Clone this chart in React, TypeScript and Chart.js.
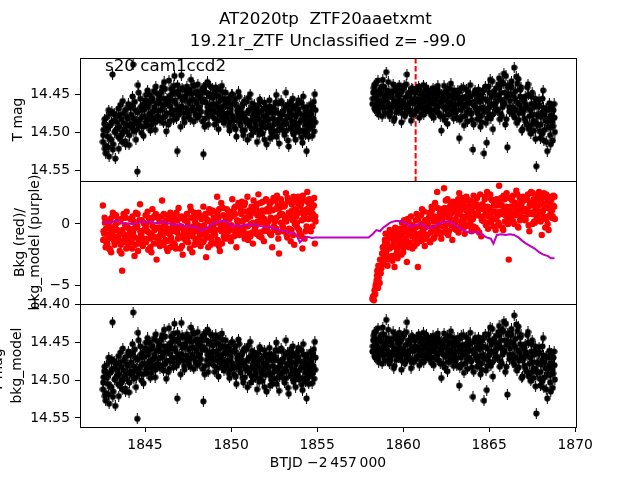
import React, { useEffect, useRef } from 'react';
import { Chart, registerables } from 'chart.js';

Chart.register(...registerables);

const FAMILY = 'DejaVu Sans';
const TITLE_LINES = ['AT2020tp  ZTF20aaetxmt ', '19.21r_ZTF Unclassified z= -99.0'];
const PANEL_LABEL = 's20 cam1ccd2';
const X_TITLE = 'BTJD \u22122\u2009457\u2009000';
const X_TICKS = [1845, 1850, 1855, 1860, 1865, 1870];
const MAG_TICKS_TOP = [14.45, 14.5, 14.55];
const BKG_TICKS = [0, -5];
const MAG_TICKS_BOTTOM = [14.4, 14.45, 14.5, 14.55];
const EVENT_TIME = 1860.73;

// orbit 1 cadences (set a)
const time1 = [
  1842.55, 1842.63, 1842.71, 1842.79, 1842.87, 1842.95, 1843.03, 1843.11, 1843.19, 1843.27,
  1843.35, 1843.43, 1843.51, 1843.59, 1843.67, 1843.75, 1843.83, 1843.91, 1843.99, 1844.07,
  1844.15, 1844.23, 1844.31, 1844.39, 1844.47, 1844.55, 1844.63, 1844.71, 1844.79, 1844.87,
  1844.95, 1845.03, 1845.11, 1845.19, 1845.27, 1845.35, 1845.43, 1845.51, 1845.59, 1845.67,
  1845.75, 1845.83, 1845.91, 1845.99, 1846.07, 1846.15, 1846.23, 1846.31, 1846.39, 1846.47,
  1846.55, 1846.63, 1846.71, 1846.79, 1846.87, 1846.95, 1847.03, 1847.11, 1847.19, 1847.27,
  1847.35, 1847.43, 1847.51, 1847.59, 1847.67, 1847.75, 1847.83, 1847.91, 1847.99, 1848.07,
  1848.15, 1848.23, 1848.31, 1848.39, 1848.47, 1848.55, 1848.63, 1848.71, 1848.79, 1848.87,
  1848.95, 1849.03, 1849.11, 1849.19, 1849.27, 1849.35, 1849.43, 1849.51, 1849.59, 1849.67,
  1849.75, 1849.83, 1849.91, 1849.99, 1850.07, 1850.15, 1850.23, 1850.31, 1850.39, 1850.47,
  1850.55, 1850.63, 1850.71, 1850.79, 1850.87, 1850.95, 1851.03, 1851.11, 1851.19, 1851.27,
  1851.35, 1851.43, 1851.51, 1851.59, 1851.67, 1851.75, 1851.83, 1851.91, 1851.99, 1852.07,
  1852.15, 1852.23, 1852.31, 1852.39, 1852.47, 1852.55, 1852.63, 1852.71, 1852.79, 1852.87,
  1852.95, 1853.03, 1853.11, 1853.19, 1853.27, 1853.35, 1853.43, 1853.51, 1853.59, 1853.67,
  1853.75, 1853.83, 1853.91, 1853.99, 1854.07, 1854.15, 1854.23, 1854.31, 1854.39, 1854.47,
  1854.55, 1854.63, 1854.71, 1854.79, 1854.87,
];
const mag1 = [
  14.512, 14.488, 14.527, 14.497, 14.519, 14.475, 14.509, 14.423, 14.484, 14.534,
  14.478, 14.505, 14.492, 14.463, 14.512, 14.487, 14.470, 14.498, 14.481, 14.516,
  14.466, 14.493, 14.410, 14.488, 14.509, 14.551, 14.447, 14.482, 14.500, 14.463,
  14.478, 14.457, 14.491, 14.466, 14.450, 14.483, 14.472, 14.445, 14.496, 14.461,
  14.479, 14.452, 14.470, 14.440, 14.487, 14.463, 14.498, 14.456, 14.431, 14.474,
  14.449, 14.476, 14.425, 14.462, 14.524, 14.445, 14.470, 14.424, 14.457, 14.481,
  14.452, 14.439, 14.471, 14.458, 14.430, 14.466, 14.485, 14.447, 14.461, 14.436,
  14.478, 14.455, 14.442, 14.528, 14.492, 14.460, 14.433, 14.468, 14.449, 14.475,
  14.454, 14.481, 14.440, 14.466, 14.495, 14.458, 14.472, 14.446, 14.487, 14.463,
  14.480, 14.455, 14.497, 14.469, 14.449, 14.484, 14.462, 14.505, 14.476, 14.452,
  14.490, 14.466, 14.503, 14.458, 14.482, 14.509, 14.471, 14.449, 14.494, 14.477,
  14.463, 14.496, 14.512, 14.474, 14.456, 14.488, 14.501, 14.468, 14.484, 14.515,
  14.472, 14.457, 14.493, 14.505, 14.466, 14.483, 14.450, 14.497, 14.514, 14.476,
  14.461, 14.489, 14.503, 14.447, 14.478, 14.518, 14.470, 14.492, 14.455, 14.486,
  14.509, 14.474, 14.457, 14.497, 14.483, 14.513, 14.466, 14.490, 14.524, 14.478,
  14.495, 14.462, 14.504, 14.481, 14.449,
];
const bkg1 = [
  1.5, -0.8, -1.9, 0.2, -1.2, -0.4, -2.3, 0.6, -1.0, -0.1,
  -1.4, 0.3, -0.6, -1.7, -3.8, 0.8, -0.9, -2.0, -0.3, -1.1,
  0.4, -1.5, -0.7, -2.6, 0.9, -0.2, -1.3, 1.6, -0.8, -1.8,
  -0.5, 0.7, -1.2, -2.1, 0.2, -0.9, 1.2, -1.6, -0.4, -2.9,
  0.5, -1.0, -0.3, 1.9, -1.7, -0.6, 0.3, -2.2, -0.8, 0.9,
  -1.4, -0.1, 0.6, -2.0, -0.7, 1.3, -1.1, -0.2, -2.5, 0.4,
  -0.9, 0.8, -1.5, -0.3, 1.1, -2.3, -0.6, 0.2, -1.2, -0.1,
  0.7, -1.8, -0.4, 1.4, -0.9, -2.7, 0.3, -0.5, 0.9, -1.3,
  -0.2, 1.0, -1.6, 2.2, 0.5, -2.2, 1.7, -0.4, -1.0, 0.2,
  1.2, -0.6, 0.4, -1.4, 2.0, -0.3, 0.8, -1.9, 0.1, 1.5,
  -0.5, 1.8, 0.3, -1.2, 1.0, 2.2, -0.8, 0.6, 1.4, -1.6,
  0.9, -0.2, 1.6, 2.4, -0.7, 0.4, 1.1, -1.4, 0.0, 1.9,
  -0.6, 1.3, 0.5, -1.9, 2.1, 0.2, -0.4, 1.5, -2.4, 0.8,
  1.7, -0.3, 0.6, 2.5, -1.1, 0.9, 1.8, -0.5, 0.3, -1.7,
  1.2, 0.1, 2.2, -0.8, 1.6, -2.0, 0.7, 1.9, -0.2, 1.0,
  2.0, -0.6, 1.3, 0.4, -1.6,
];

// orbit 1 cadences (set b)
const time1b = [
  1842.59, 1842.67, 1842.75, 1842.83, 1842.91, 1842.99, 1843.07, 1843.15, 1843.23, 1843.31,
  1843.39, 1843.47, 1843.55, 1843.63, 1843.71, 1843.79, 1843.87, 1843.95, 1844.03, 1844.11,
  1844.19, 1844.27, 1844.35, 1844.43, 1844.51, 1844.59, 1844.67, 1844.75, 1844.83, 1844.91,
  1844.99, 1845.07, 1845.15, 1845.23, 1845.31, 1845.39, 1845.47, 1845.55, 1845.63, 1845.71,
  1845.79, 1845.87, 1845.95, 1846.03, 1846.11, 1846.19, 1846.27, 1846.35, 1846.43, 1846.51,
  1846.59, 1846.67, 1846.75, 1846.83, 1846.91, 1846.99, 1847.07, 1847.15, 1847.23, 1847.31,
  1847.39, 1847.47, 1847.55, 1847.63, 1847.71, 1847.79, 1847.87, 1847.95, 1848.03, 1848.11,
  1848.19, 1848.27, 1848.35, 1848.43, 1848.51, 1848.59, 1848.67, 1848.75, 1848.83, 1848.91,
  1848.99, 1849.07, 1849.15, 1849.23, 1849.31, 1849.39, 1849.47, 1849.55, 1849.63, 1849.71,
  1849.79, 1849.87, 1849.95, 1850.03, 1850.11, 1850.19, 1850.27, 1850.35, 1850.43, 1850.51,
  1850.59, 1850.67, 1850.75, 1850.83, 1850.91, 1850.99, 1851.07, 1851.15, 1851.23, 1851.31,
  1851.39, 1851.47, 1851.55, 1851.63, 1851.71, 1851.79, 1851.87, 1851.95, 1852.03, 1852.11,
  1852.19, 1852.27, 1852.35, 1852.43, 1852.51, 1852.59, 1852.67, 1852.75, 1852.83, 1852.91,
  1852.99, 1853.07, 1853.15, 1853.23, 1853.31, 1853.39, 1853.47, 1853.55, 1853.63, 1853.71,
  1853.79, 1853.87, 1853.95, 1854.03, 1854.11, 1854.19, 1854.27, 1854.35, 1854.43, 1854.51,
  1854.59, 1854.67, 1854.75, 1854.83, 1854.91,
];
const mag1b = [
  14.496, 14.521, 14.480, 14.505, 14.531, 14.490, 14.472, 14.515, 14.499, 14.478,
  14.494, 14.521, 14.476, 14.503, 14.458, 14.497, 14.515, 14.479, 14.462, 14.490,
  14.476, 14.452, 14.498, 14.470, 14.485, 14.437, 14.491, 14.466, 14.479, 14.504,
  14.462, 14.486, 14.444, 14.475, 14.497, 14.458, 14.481, 14.466, 14.439, 14.478,
  14.458, 14.484, 14.446, 14.469, 14.433, 14.478, 14.455, 14.489, 14.465, 14.442,
  14.470, 14.438, 14.457, 14.481, 14.449, 14.466, 14.492, 14.441, 14.474, 14.455,
  14.444, 14.474, 14.460, 14.482, 14.449, 14.437, 14.470, 14.458, 14.480, 14.451,
  14.466, 14.448, 14.485, 14.456, 14.437, 14.473, 14.489, 14.452, 14.463, 14.441,
  14.471, 14.446, 14.462, 14.484, 14.452, 14.477, 14.438, 14.465, 14.456, 14.481,
  14.465, 14.491, 14.474, 14.450, 14.482, 14.460, 14.495, 14.471, 14.446, 14.486,
  14.472, 14.497, 14.460, 14.485, 14.474, 14.454, 14.490, 14.503, 14.467, 14.481,
  14.487, 14.470, 14.480, 14.502, 14.459, 14.492, 14.478, 14.509, 14.466, 14.474,
  14.490, 14.507, 14.469, 14.481, 14.498, 14.460, 14.487, 14.474, 14.495, 14.458,
  14.476, 14.498, 14.466, 14.488, 14.510, 14.471, 14.459, 14.485, 14.502, 14.468,
  14.488, 14.462, 14.499, 14.475, 14.506, 14.452, 14.483, 14.471, 14.496, 14.505,
  14.472, 14.489, 14.466, 14.498, 14.470,
];
const bkg1b = [
  -0.6, 0.1, -1.5, -0.9, -2.0, 0.4, -1.1, -0.3, -1.7, 0.7,
  -0.5, -1.3, 0.2, -2.4, -0.8, -1.5, 0.5, -0.2, -1.9, -0.7,
  -1.0, 0.6, -0.4, -1.7, -0.1, -2.2, 0.3, -0.9, -1.4, 0.1,
  -1.3, -0.2, 1.0, -0.7, -1.9, 0.4, -1.0, -0.5, 0.8, -1.6,
  -0.3, -1.8, 0.6, -0.9, 0.1, -1.3, -2.0, 0.7, -0.4, -1.1,
  0.2, -1.6, -0.5, 0.9, -1.2, -0.3, 0.5, -1.8, -0.8, 0.3,
  -1.4, 0.1, -0.7, 1.4, -1.0, -0.2, -1.7, 0.6, -0.6, 0.9,
  -0.8, 0.4, -1.5, -0.1, 0.8, -1.1, -1.9, 0.2, -0.5, 1.1,
  0.5, -0.9, 0.1, -1.3, 1.2, -0.4, -1.6, 0.7, -0.1, -0.8,
  -0.2, 0.9, -1.1, 0.6, -0.5, 1.3, -0.9, 0.3, 1.7, -0.6,
  0.8, -0.3, 1.5, -0.9, 0.4, -1.3, 1.1, 0.0, -0.7, 1.9,
  -0.4, 1.2, 0.2, -1.0, 1.7, 0.6, -0.6, 1.0, 2.0, -0.2,
  1.0, -0.8, 1.8, 0.4, -0.5, 1.2, 2.3, -1.2, 0.7, 0.1,
  -0.2, 1.4, 0.3, -0.9, 1.9, 0.5, -1.4, 1.1, 2.2, 0.0,
  0.6, 1.7, -0.5, 2.0, 0.3, 1.1, -1.2, 0.9, 2.6, 0.4,
  -0.4, 1.6, 0.8, 2.1, 0.2,
];

// orbit 1 cadences (set c)
const time1c = [
  1842.57, 1842.65, 1842.73, 1842.81, 1842.89, 1842.97, 1843.05, 1843.13, 1843.21, 1843.29,
  1843.37, 1843.45, 1843.53, 1843.61, 1843.69, 1843.77, 1843.85, 1843.93, 1844.01, 1844.09,
  1844.17, 1844.25, 1844.33, 1844.41, 1844.49, 1844.57, 1844.65, 1844.73, 1844.81, 1844.89,
  1844.97, 1845.05, 1845.13, 1845.21, 1845.29, 1845.37, 1845.45, 1845.53, 1845.61, 1845.69,
  1845.77, 1845.85, 1845.93, 1846.01, 1846.09, 1846.17, 1846.25, 1846.33, 1846.41, 1846.49,
  1846.57, 1846.65, 1846.73, 1846.81, 1846.89, 1846.97, 1847.05, 1847.13, 1847.21, 1847.29,
  1847.37, 1847.45, 1847.53, 1847.61, 1847.69, 1847.77, 1847.85, 1847.93, 1848.01, 1848.09,
  1848.17, 1848.25, 1848.33, 1848.41, 1848.49, 1848.57, 1848.65, 1848.73, 1848.81, 1848.89,
  1848.97, 1849.05, 1849.13, 1849.21, 1849.29, 1849.37, 1849.45, 1849.53, 1849.61, 1849.69,
  1849.77, 1849.85, 1849.93, 1850.01, 1850.09, 1850.17, 1850.25, 1850.33, 1850.41, 1850.49,
  1850.57, 1850.65, 1850.73, 1850.81, 1850.89, 1850.97, 1851.05, 1851.13, 1851.21, 1851.29,
  1851.37, 1851.45, 1851.53, 1851.61, 1851.69, 1851.77, 1851.85, 1851.93, 1852.01, 1852.09,
  1852.17, 1852.25, 1852.33, 1852.41, 1852.49, 1852.57, 1852.65, 1852.73, 1852.81, 1852.89,
  1852.97, 1853.05, 1853.13, 1853.21, 1853.29, 1853.37, 1853.45, 1853.53, 1853.61, 1853.69,
  1853.77, 1853.85, 1853.93, 1854.01, 1854.09, 1854.17, 1854.25, 1854.33, 1854.41, 1854.49,
  1854.57, 1854.65, 1854.73, 1854.81, 1854.89,
];
const mag1c = [
  14.503, 14.482, 14.517, 14.493, 14.470, 14.508, 14.486, 14.522, 14.475, 14.497,
  14.486, 14.468, 14.507, 14.482, 14.499, 14.474, 14.511, 14.491, 14.467, 14.503,
  14.488, 14.464, 14.481, 14.459, 14.496, 14.473, 14.487, 14.455, 14.470, 14.492,
  14.469, 14.450, 14.483, 14.461, 14.478, 14.490, 14.455, 14.471, 14.486, 14.448,
  14.471, 14.449, 14.462, 14.480, 14.455, 14.442, 14.474, 14.460, 14.485, 14.451,
  14.458, 14.483, 14.446, 14.470, 14.437, 14.476, 14.452, 14.465, 14.443, 14.486,
  14.467, 14.448, 14.479, 14.443, 14.471, 14.456, 14.438, 14.476, 14.446, 14.468,
  14.450, 14.472, 14.459, 14.440, 14.481, 14.447, 14.466, 14.478, 14.439, 14.470,
  14.462, 14.489, 14.451, 14.474, 14.443, 14.468, 14.483, 14.455, 14.476, 14.447,
  14.474, 14.458, 14.486, 14.463, 14.478, 14.492, 14.455, 14.482, 14.467, 14.473,
  14.481, 14.463, 14.478, 14.496, 14.459, 14.487, 14.470, 14.484, 14.461, 14.499,
  14.474, 14.491, 14.465, 14.482, 14.497, 14.471, 14.486, 14.460, 14.493, 14.479,
  14.483, 14.465, 14.499, 14.474, 14.489, 14.470, 14.505, 14.461, 14.482, 14.492,
  14.490, 14.471, 14.484, 14.497, 14.463, 14.480, 14.494, 14.476, 14.465, 14.499,
  14.479, 14.493, 14.469, 14.486, 14.460, 14.497, 14.477, 14.502, 14.466, 14.488,
  14.484, 14.476, 14.491, 14.459, 14.486,
];
const bkg1c = [
  -1.3, 0.5, -0.4, -1.6, 0.0, -2.1, -0.7, 0.9, -1.4, -0.5,
  0.1, -1.0, -2.2, 0.4, -0.5, -1.3, -0.1, 1.0, -1.5, -0.4,
  -0.8, -2.0, 0.2, -1.1, -0.3, 0.8, -1.6, -0.6, 0.3, -1.2,
  0.0, -1.5, -0.6, 0.5, -1.2, -2.3, -0.2, 0.6, -1.1, -0.3,
  -1.2, 0.2, -0.7, -1.5, 0.8, -0.1, -1.4, -0.5, 0.4, -1.9,
  -0.6, 0.7, -1.7, -0.2, 0.3, -1.0, -2.0, 0.6, -0.4, -1.2,
  0.3, -1.1, -0.4, -2.0, 0.5, -0.8, 0.9, -1.3, -0.3, -1.6,
  -1.1, -0.2, 0.6, -1.4, -0.6, 0.4, -1.0, 1.2, -1.7, -0.2,
  -0.9, 0.3, -0.5, 0.9, -1.8, 0.0, -0.6, 1.3, -1.2, 0.5,
  0.4, -1.2, 1.0, -0.1, 0.7, -1.0, 1.4, -0.4, 0.2, -0.9,
  1.1, 0.2, -0.6, 1.7, 0.5, -0.2, 0.9, -1.0, 1.3, 0.1,
  1.4, -0.8, 0.7, 1.0, 0.1, -1.1, 1.8, 0.4, -0.3, 1.2,
  0.2, 1.6, -0.9, 1.1, -0.2, 1.9, 0.5, -0.7, 1.3, 2.0,
  0.8, -0.6, 1.5, 0.2, 2.1, -0.4, 0.7, 1.6, -0.9, 1.0,
  1.9, -0.3, 0.9, 1.4, -1.0, 2.3, 0.4, -0.6, 1.2, 1.7,
  0.9, 1.8, -0.2, 1.5, 0.6,
];

// orbit 2 cadences (set a)
const time2 = [
  1858.22, 1858.30, 1858.38, 1858.46, 1858.54, 1858.62, 1858.70, 1858.78, 1858.86, 1858.94,
  1859.02, 1859.10, 1859.18, 1859.26, 1859.34, 1859.42, 1859.50, 1859.58, 1859.66, 1859.74,
  1859.82, 1859.90, 1859.98, 1860.06, 1860.14, 1860.22, 1860.30, 1860.38, 1860.46, 1860.54,
  1860.62, 1860.70, 1860.78, 1860.86, 1860.94, 1861.02, 1861.10, 1861.18, 1861.26, 1861.34,
  1861.42, 1861.50, 1861.58, 1861.66, 1861.74, 1861.82, 1861.90, 1861.98, 1862.06, 1862.14,
  1862.22, 1862.30, 1862.38, 1862.46, 1862.54, 1862.62, 1862.70, 1862.78, 1862.86, 1862.94,
  1863.02, 1863.10, 1863.18, 1863.26, 1863.34, 1863.42, 1863.50, 1863.58, 1863.66, 1863.74,
  1863.82, 1863.90, 1863.98, 1864.06, 1864.14, 1864.22, 1864.30, 1864.38, 1864.46, 1864.54,
  1864.62, 1864.70, 1864.78, 1864.86, 1864.94, 1865.02, 1865.10, 1865.18, 1865.26, 1865.34,
  1865.42, 1865.50, 1865.58, 1865.66, 1865.74, 1865.82, 1865.90, 1865.98, 1866.06, 1866.14,
  1866.22, 1866.30, 1866.38, 1866.46, 1866.54, 1866.62, 1866.70, 1866.78, 1866.86, 1866.94,
  1867.02, 1867.10, 1867.18, 1867.26, 1867.34, 1867.42, 1867.50, 1867.58, 1867.66, 1867.74,
  1867.82, 1867.90, 1867.98, 1868.06, 1868.14, 1868.22, 1868.30, 1868.38, 1868.46, 1868.54,
  1868.62, 1868.70, 1868.78,
];
const mag2 = [
  14.462, 14.441, 14.470, 14.452, 14.431, 14.465, 14.448, 14.478, 14.439, 14.457,
  14.420, 14.466, 14.445, 14.474, 14.453, 14.436, 14.481, 14.459, 14.442, 14.470,
  14.450, 14.486, 14.463, 14.438, 14.475, 14.423, 14.468, 14.452, 14.484, 14.461,
  14.476, 14.455, 14.443, 14.468, 14.480, 14.449, 14.460, 14.437, 14.471, 14.452,
  14.444, 14.466, 14.458, 14.477, 14.441, 14.462, 14.450, 14.473, 14.446, 14.459,
  14.497, 14.454, 14.438, 14.469, 14.447, 14.476, 14.460, 14.435, 14.463, 14.481,
  14.451, 14.470, 14.444, 14.507, 14.458, 14.479, 14.440, 14.466, 14.452, 14.485,
  14.461, 14.437, 14.474, 14.522, 14.449, 14.466, 14.482, 14.443, 14.459, 14.478,
  14.455, 14.527, 14.439, 14.513, 14.468, 14.447, 14.481, 14.432, 14.463, 14.450,
  14.441, 14.470, 14.428, 14.456, 14.478, 14.435, 14.462, 14.425, 14.519, 14.449,
  14.458, 14.432, 14.476, 14.414, 14.445, 14.487, 14.429, 14.463, 14.440, 14.495,
  14.470, 14.452, 14.489, 14.436, 14.478, 14.501, 14.447, 14.484, 14.461, 14.544,
  14.490, 14.456, 14.507, 14.473, 14.444, 14.496, 14.468, 14.524, 14.482, 14.503,
  14.477, 14.510, 14.462,
];
const bkg2 = [
  -6.1, -6.2, -5.7, -4.6, -5.2, -3.5, -4.0, -2.4, -3.1, -1.3,
  -2.2, -3.4, -1.0, -2.7, -0.6, -1.8, -3.5, -0.9, -2.1, -1.4,
  -0.4, -2.5, -1.1, 0.3, -1.7, -3.1, -0.8, -1.5, 0.6, -2.0,
  -0.6, -1.3, 0.8, -3.5, -0.2, -1.0, 1.2, -0.7, -1.8, 0.1,
  -0.9, 0.5, -1.5, 1.4, -0.3, -1.1, 0.2, 2.6, -0.6, 0.9,
  -1.2, 0.4, 2.9, -0.4, 1.0, -0.9, 0.6, 1.6, -1.3, 0.2,
  1.3, -0.5, 0.8, 2.5, -0.2, 1.7, 0.3, -0.8, 1.1, 0.5,
  0.9, 1.9, -0.6, 0.4, 1.4, -0.3, 2.1, 0.7, 1.2, -1.0,
  1.6, 0.2, 2.2, 0.9, -0.4, 1.3, 0.6, 1.9, -0.2, 1.0,
  0.4, 1.8, 3.1, 0.8, 1.5, -0.5, 2.0, 1.1, 0.3, -2.9,
  1.4, 0.6, 2.3, 0.0, 1.7, 0.9, -0.3, 2.1, 1.2, 0.5,
  1.9, 0.3, 1.0, 2.4, -0.6, 1.5, 0.8, 2.0, 0.1, 1.3,
  0.7, 2.6, 1.6, -0.9, 1.1, 2.2, 0.4, 1.8, -0.5, 1.2,
  2.0, 0.6, 1.4,
];

// orbit 2 cadences (set b)
const time2b = [
  1858.26, 1858.34, 1858.42, 1858.50, 1858.58, 1858.66, 1858.74, 1858.82, 1858.90, 1858.98,
  1859.06, 1859.14, 1859.22, 1859.30, 1859.38, 1859.46, 1859.54, 1859.62, 1859.70, 1859.78,
  1859.86, 1859.94, 1860.02, 1860.10, 1860.18, 1860.26, 1860.34, 1860.42, 1860.50, 1860.58,
  1860.66, 1860.74, 1860.82, 1860.90, 1860.98, 1861.06, 1861.14, 1861.22, 1861.30, 1861.38,
  1861.46, 1861.54, 1861.62, 1861.70, 1861.78, 1861.86, 1861.94, 1862.02, 1862.10, 1862.18,
  1862.26, 1862.34, 1862.42, 1862.50, 1862.58, 1862.66, 1862.74, 1862.82, 1862.90, 1862.98,
  1863.06, 1863.14, 1863.22, 1863.30, 1863.38, 1863.46, 1863.54, 1863.62, 1863.70, 1863.78,
  1863.86, 1863.94, 1864.02, 1864.10, 1864.18, 1864.26, 1864.34, 1864.42, 1864.50, 1864.58,
  1864.66, 1864.74, 1864.82, 1864.90, 1864.98, 1865.06, 1865.14, 1865.22, 1865.30, 1865.38,
  1865.46, 1865.54, 1865.62, 1865.70, 1865.78, 1865.86, 1865.94, 1866.02, 1866.10, 1866.18,
  1866.26, 1866.34, 1866.42, 1866.50, 1866.58, 1866.66, 1866.74, 1866.82, 1866.90, 1866.98,
  1867.06, 1867.14, 1867.22, 1867.30, 1867.38, 1867.46, 1867.54, 1867.62, 1867.70, 1867.78,
  1867.86, 1867.94, 1868.02, 1868.10, 1868.18, 1868.26, 1868.34, 1868.42, 1868.50, 1868.58,
  1868.66, 1868.74, 1868.82,
];
const mag2b = [
  14.447, 14.468, 14.435, 14.458, 14.476, 14.443, 14.461, 14.430, 14.467, 14.450,
  14.456, 14.433, 14.472, 14.447, 14.463, 14.484, 14.440, 14.466, 14.451, 14.437,
  14.468, 14.445, 14.459, 14.478, 14.436, 14.463, 14.449, 14.471, 14.441, 14.457,
  14.446, 14.470, 14.458, 14.439, 14.462, 14.475, 14.453, 14.466, 14.444, 14.470,
  14.463, 14.448, 14.470, 14.455, 14.480, 14.443, 14.467, 14.438, 14.474, 14.452,
  14.461, 14.478, 14.446, 14.466, 14.488, 14.452, 14.442, 14.470, 14.455, 14.465,
  14.474, 14.448, 14.462, 14.483, 14.441, 14.466, 14.490, 14.455, 14.473, 14.446,
  14.452, 14.475, 14.460, 14.489, 14.444, 14.470, 14.456, 14.478, 14.492, 14.448,
  14.466, 14.443, 14.487, 14.458, 14.475, 14.430, 14.462, 14.495, 14.449, 14.470,
  14.458, 14.436, 14.482, 14.447, 14.466, 14.422, 14.489, 14.453, 14.440, 14.472,
  14.437, 14.468, 14.451, 14.480, 14.426, 14.460, 14.474, 14.443, 14.497, 14.456,
  14.481, 14.463, 14.440, 14.495, 14.470, 14.452, 14.488, 14.466, 14.508, 14.476,
  14.465, 14.498, 14.479, 14.455, 14.510, 14.484, 14.469, 14.492, 14.461, 14.515,
  14.486, 14.470, 14.499,
];
const bkg2b = [
  -5.9, -5.4, -4.9, -3.8, -4.4, -2.9, -3.6, -1.9, -2.8, -0.8,
  -1.6, -2.9, -0.5, -1.9, -3.0, -1.2, -0.3, -2.4, -1.0, -1.8,
  -1.3, 0.1, -2.0, -0.6, -1.4, 0.4, -1.9, -0.3, -1.0, -0.5,
  -1.8, 0.3, -0.9, 0.6, -1.4, 0.0, -0.6, 1.0, -1.2, -0.2,
  0.4, -1.4, 0.9, -0.5, 0.2, 1.7, -0.8, 0.5, -0.1, 1.2,
  0.6, -0.7, 1.3, 0.0, 2.0, -0.6, 1.0, 0.3, 1.8, -0.4,
  0.4, 1.6, -0.7, 1.0, 0.2, 2.1, -0.3, 1.4, 0.6, 1.9,
  -0.2, 1.1, 0.5, 2.3, -0.4, 1.6, 0.9, -0.7, 1.5, 0.3,
  1.2, 2.0, -0.1, 1.4, 0.6, 2.4, 0.2, 1.0, 1.7, -0.5,
  1.5, 0.1, 1.0, 2.1, -0.3, 1.3, 0.7, 2.5, 0.0, 1.1,
  0.3, 1.9, 0.8, 1.3, 2.7, -0.2, 1.6, 0.6, 2.0, 1.0,
  0.5, 2.2, 1.2, -0.1, 1.7, 0.9, 2.5, 0.2, 1.4, 2.0,
  1.5, 0.3, 2.1, 1.0, 2.5, -0.3, 1.3, 0.6, 2.2, 0.9,
  1.1, 2.3, 0.4,
];

// orbit 2 cadences (set c)
const time2c = [
  1858.24, 1858.32, 1858.40, 1858.48, 1858.56, 1858.64, 1858.72, 1858.80, 1858.88, 1858.96,
  1859.04, 1859.12, 1859.20, 1859.28, 1859.36, 1859.44, 1859.52, 1859.60, 1859.68, 1859.76,
  1859.84, 1859.92, 1860.00, 1860.08, 1860.16, 1860.24, 1860.32, 1860.40, 1860.48, 1860.56,
  1860.64, 1860.72, 1860.80, 1860.88, 1860.96, 1861.04, 1861.12, 1861.20, 1861.28, 1861.36,
  1861.44, 1861.52, 1861.60, 1861.68, 1861.76, 1861.84, 1861.92, 1862.00, 1862.08, 1862.16,
  1862.24, 1862.32, 1862.40, 1862.48, 1862.56, 1862.64, 1862.72, 1862.80, 1862.88, 1862.96,
  1863.04, 1863.12, 1863.20, 1863.28, 1863.36, 1863.44, 1863.52, 1863.60, 1863.68, 1863.76,
  1863.84, 1863.92, 1864.00, 1864.08, 1864.16, 1864.24, 1864.32, 1864.40, 1864.48, 1864.56,
  1864.64, 1864.72, 1864.80, 1864.88, 1864.96, 1865.04, 1865.12, 1865.20, 1865.28, 1865.36,
  1865.44, 1865.52, 1865.60, 1865.68, 1865.76, 1865.84, 1865.92, 1866.00, 1866.08, 1866.16,
  1866.24, 1866.32, 1866.40, 1866.48, 1866.56, 1866.64, 1866.72, 1866.80, 1866.88, 1866.96,
  1867.04, 1867.12, 1867.20, 1867.28, 1867.36, 1867.44, 1867.52, 1867.60, 1867.68, 1867.76,
  1867.84, 1867.92, 1868.00, 1868.08, 1868.16, 1868.24, 1868.32, 1868.40, 1868.48, 1868.56,
  1868.64, 1868.72, 1868.80,
];
const mag2c = [
  14.455, 14.437, 14.463, 14.446, 14.471, 14.458, 14.440, 14.466, 14.452, 14.474,
  14.444, 14.461, 14.478, 14.450, 14.467, 14.445, 14.458, 14.473, 14.448, 14.462,
  14.457, 14.474, 14.442, 14.466, 14.453, 14.470, 14.447, 14.460, 14.476, 14.443,
  14.461, 14.447, 14.471, 14.456, 14.442, 14.467, 14.449, 14.476, 14.458, 14.440,
  14.452, 14.472, 14.445, 14.461, 14.449, 14.470, 14.456, 14.443, 14.464, 14.478,
  14.449, 14.466, 14.483, 14.457, 14.441, 14.464, 14.475, 14.450, 14.471, 14.444,
  14.462, 14.480, 14.455, 14.445, 14.470, 14.453, 14.463, 14.478, 14.443, 14.460,
  14.470, 14.452, 14.483, 14.463, 14.447, 14.458, 14.474, 14.450, 14.468, 14.486,
  14.444, 14.472, 14.456, 14.481, 14.439, 14.466, 14.453, 14.476, 14.445, 14.461,
  14.469, 14.451, 14.440, 14.475, 14.433, 14.460, 14.447, 14.482, 14.438, 14.466,
  14.449, 14.440, 14.466, 14.455, 14.470, 14.435, 14.483, 14.452, 14.468, 14.474,
  14.458, 14.485, 14.467, 14.450, 14.491, 14.462, 14.476, 14.497, 14.455, 14.488,
  14.478, 14.463, 14.489, 14.501, 14.467, 14.476, 14.512, 14.485, 14.470, 14.493,
  14.465, 14.491, 14.480,
];
const bkg2c = [
  -6.0, -5.8, -5.1, -4.2, -3.4, -4.8, -2.9, -3.3, -2.0, -1.6,
  -2.5, -1.2, -2.0, -0.8, -2.6, -1.5, -0.7, -1.9, -2.8, -0.5,
  -1.6, -0.9, -2.3, -0.2, -1.2, -0.6, 0.2, -1.7, -0.9, -0.1,
  -1.0, -0.3, -1.6, 0.4, -0.8, 0.7, -1.3, -0.4, 0.3, -0.9,
  0.0, 0.9, -0.7, 1.1, -1.2, 0.6, -0.4, 1.3, 0.2, -0.8,
  1.2, -0.2, 0.8, 1.9, -0.6, 0.5, 1.4, -0.1, 0.9, 1.6,
  0.1, 0.9, 2.0, -0.4, 1.3, 0.6, 1.8, 0.0, 2.2, 0.8,
  1.5, 0.2, 1.0, -0.2, 1.8, 0.7, -0.5, 1.3, 2.4, 0.5,
  0.6, 1.4, 0.8, 2.6, 0.1, 1.1, 2.0, 0.4, 1.5, 0.9,
  2.0, 0.7, -0.1, 1.6, 0.9, 2.3, 0.2, 1.4, 0.6, 2.1,
  0.9, 2.1, 0.2, 1.5, 0.7, 2.4, 1.1, 0.3, 1.6, 2.2,
  1.2, 0.4, 2.0, 0.8, 1.5, 2.6, 0.0, 1.7, 1.1, 0.6,
  2.3, 1.0, 0.2, 1.7, 0.6, 1.4, 2.4, 0.0, 1.6, 1.9,
  0.5, 1.5, 2.2,
];

// background model (purple)
const modelTime = [
  1842.55, 1842.8, 1843.05, 1843.3, 1843.55, 1843.8, 1844.05, 1844.3, 1844.55, 1844.8,
  1845.05, 1845.3, 1845.55, 1845.8, 1846.05, 1846.3, 1846.55, 1846.8, 1847.05, 1847.3,
  1847.55, 1847.8, 1848.05, 1848.3, 1848.55, 1848.8, 1849.05, 1849.3, 1849.55, 1849.8,
  1850.05, 1850.3, 1850.55, 1850.8, 1851.05, 1851.3, 1851.55, 1851.8, 1852.05, 1852.3,
  1852.55, 1852.8, 1853.05, 1853.3, 1853.55, 1853.8, 1854.0, 1854.2, 1854.45, 1854.7,
  1854.9, 1858.0, 1858.25, 1858.45, 1858.65, 1858.85, 1859.05, 1859.25, 1859.45, 1859.65,
  1859.9, 1860.15, 1860.35, 1860.55, 1860.8, 1861.0, 1861.2, 1861.4, 1861.6, 1861.85,
  1862.1, 1862.35, 1862.6, 1862.85, 1863.1, 1863.35, 1863.6, 1863.85, 1864.1, 1864.35,
  1864.6, 1864.85, 1865.1, 1865.25, 1865.45, 1865.7, 1865.95, 1866.2, 1866.45, 1866.7,
  1866.95, 1867.15, 1867.4, 1867.65, 1867.9, 1868.15, 1868.4, 1868.6, 1868.8,
];
const modelBkg = [
  0.1, 0.15, 0.1, 0.3, 0.15, 0.0, 0.05, -0.05, 0.1, 0.2,
  0.1, 0.2, 0.05, 0.1, 0.2, 0.05, 0.0, -0.1, 0.0, -0.2,
  -0.15, -0.25, -0.3, -0.55, -0.4, -0.1, 0.1, 0.2, 0.25, 0.15,
  -0.2, -0.1, -0.2, -0.05, -0.1, 0.0, -0.15, -0.2, -0.3, -0.25,
  -0.4, -0.5, -0.55, -0.7, -0.75, -0.9, -1.5, -1.2, -1.05, -1.15,
  -1.1, -1.1, -0.8, -0.5, -0.6, -0.3, -0.1, 0.1, 0.2, 0.25,
  0.2, 0.1, -0.2, -0.15, -0.05, 0.0, -0.1, -0.4, -0.3, -0.2,
  0.05, 0.15, 0.2, 0.1, -0.2, -0.35, -0.6, -0.7, -0.65, -0.7,
  -0.9, -1.1, -1.2, -1.6, -0.9, -0.85, -0.9, -0.85, -0.9, -1.1,
  -1.4, -1.6, -1.8, -2.0, -2.3, -2.5, -2.6, -2.8, -2.8,
];

const X_MIN = 1841.22;
const X_MAX = 1870.05;
const TOP_RANGE = [14.4015, 14.5636];
const BKG_RANGE = [-6.51, 3.48];
const BOTTOM_RANGE = [14.399, 14.562];

export default function App() {
  const ref = useRef<HTMLCanvasElement>(null);

  useEffect(() => {
    const canvas = ref.current;
    if (!canvas) return;

    const marker = document.createElement('canvas');
    marker.width = 7;
    marker.height = 11;
    const g = marker.getContext('2d')!;
    g.fillStyle = '#000';
    g.beginPath();
    g.arc(3.5, 5.5, 3.1, 0, Math.PI * 2);
    g.fill();
    g.fillRect(3, 0, 1, 11);

    const pts = (ts: number[], vs: number[]) => ts.map((t, i) => ({ x: t, y: vs[i] }));
    const magPts = [
      ...pts(time1, mag1), ...pts(time1b, mag1b), ...pts(time1c, mag1c),
      ...pts(time2, mag2), ...pts(time2b, mag2b), ...pts(time2c, mag2c),
    ];
    const bkgPts = [
      ...pts(time1, bkg1), ...pts(time1b, bkg1b), ...pts(time1c, bkg1c),
      ...pts(time2, bkg2), ...pts(time2b, bkg2b), ...pts(time2c, bkg2c),
    ];
    const modelPts = pts(modelTime, modelBkg);

    const tickFont = { family: FAMILY, size: 13.9 };
    const fixTicks = (vals: number[]) => (scale: any) => {
      scale.ticks = vals.map((v) => ({ value: v }));
    };
    const gridOpts = { drawOnChartArea: false, tickLength: 5, color: '#000', tickWidth: 1 };
    const borderOpts = { color: '#000', width: 1 };

    const yScale = (range: number[], ticks: number[], reverse: boolean, fmt: (v: number) => string, title: any) => ({
      type: 'linear',
      position: 'left',
      stack: 'panels',
      stackWeight: 1,
      min: range[0],
      max: range[1],
      reverse,
      afterBuildTicks: fixTicks(ticks),
      afterFit: (s: any) => {
        s.width = 80;
      },
      ticks: { font: tickFont, color: '#000', padding: 5, callback: (v: any) => fmt(Number(v)) },
      grid: gridOpts,
      border: borderOpts,
      title,
    });

    const magFmt = (v: number) => v.toFixed(2);
    const bkgFmt = (v: number) => (v < 0 ? '\u2212' + Math.abs(v) : String(v));

    const framePlugin = {
      id: 'frame',
      afterDatasetsDraw(chart: any) {
        const { ctx, chartArea } = chart;
        ctx.save();
        ctx.strokeStyle = '#000';
        ctx.lineWidth = 1;
        const l = Math.round(chartArea.left) + 0.5;
        const r = Math.round(chartArea.right) + 0.5;
        ['y1', 'y2', 'y3'].forEach((id) => {
          const s = chart.scales[id];
          const t = Math.round(s.top) + 0.5;
          const b = Math.round(s.bottom) + 0.5;
          ctx.strokeRect(l, t, r - l, b - t);
        });
        ctx.restore();
      },
      afterDraw(chart: any) {
        const { ctx, chartArea } = chart;
        ctx.save();
        ctx.fillStyle = '#000';
        ctx.font = `16.7px "${FAMILY}"`;
        ctx.textBaseline = 'alphabetic';
        ctx.textAlign = 'left';
        ctx.fillText(PANEL_LABEL, chartArea.left + 25, chartArea.top + 13);
        ctx.restore();
      },
    };

    const chart = new Chart(canvas, {
      type: 'scatter',
      data: {
        datasets: [
          {
            data: modelPts,
            yAxisID: 'y2',
            showLine: true,
            pointRadius: 0,
            borderColor: '#bf00bf',
            borderWidth: 2,
            order: 0,
          } as any,
          {
            data: magPts,
            yAxisID: 'y1',
            pointStyle: marker,
            pointRadius: 3,
            order: 1,
          },
          {
            data: bkgPts,
            yAxisID: 'y2',
            pointRadius: 3.2,
            pointBorderWidth: 0,
            backgroundColor: '#ff0000',
            borderColor: '#ff0000',
            order: 1,
          },
          {
            data: magPts,
            yAxisID: 'y3',
            pointStyle: marker,
            pointRadius: 3,
            order: 1,
          },
          {
            data: [
              { x: EVENT_TIME, y: TOP_RANGE[0] },
              { x: EVENT_TIME, y: TOP_RANGE[1] },
            ],
            yAxisID: 'y1',
            showLine: true,
            pointRadius: 0,
            borderColor: '#ff0000',
            borderWidth: 2,
            borderDash: [5.5, 2.4],
            order: 5,
          } as any,
        ],
      },
      options: {
        responsive: false,
        animation: false,
        events: [],
        layout: { padding: { left: 0, right: 64, top: 0, bottom: 0 } },
        plugins: {
          legend: { display: false },
          tooltip: { enabled: false },
          title: {
            display: true,
            text: TITLE_LINES,
            fullSize: false,
            color: '#000',
            font: { family: FAMILY, size: 16.7, lineHeight: 1.32, weight: 'normal' },
            padding: { top: 9, bottom: 5 },
          },
        },
        scales: {
          x: {
            type: 'linear',
            position: 'bottom',
            min: X_MIN,
            max: X_MAX,
            afterBuildTicks: fixTicks(X_TICKS),
            afterFit: (s: any) => {
              s.height = 53;
            },
            ticks: { font: tickFont, color: '#000', padding: 5, maxRotation: 0, autoSkip: false, callback: (v: any) => String(v) },
            grid: gridOpts,
            border: borderOpts,
            title: {
              display: true,
              text: X_TITLE,
              color: '#000',
              font: { family: FAMILY, size: 13.9, lineHeight: 1.2 },
              padding: { top: 0, bottom: 8.7 },
            },
          },
          y3: yScale(BOTTOM_RANGE, MAG_TICKS_BOTTOM, true, magFmt, {
            display: true,
            text: ['T mag -', 'bkg_model'],
            color: '#000',
            font: { family: FAMILY, size: 13.9, lineHeight: 1.367 },
            padding: { top: -11.5, bottom: 0 },
          }),
          y2: yScale(BKG_RANGE, BKG_TICKS, false, bkgFmt, {
            display: true,
            text: ['Bkg (red)/', 'bkg_model (purple)'],
            color: '#000',
            font: { family: FAMILY, size: 13.9, lineHeight: 1.08 },
            padding: { top: 12.5, bottom: 0 },
          }),
          y1: yScale(TOP_RANGE, MAG_TICKS_TOP, true, magFmt, {
            display: true,
            text: 'T mag',
            color: '#000',
            font: { family: FAMILY, size: 13.9, lineHeight: 1.2 },
            padding: { top: 9.7, bottom: 0 },
          }),
        } as any,
      },
      plugins: [framePlugin],
    });

    return () => chart.destroy();
  }, []);

  return (
    <canvas
      ref={ref}
      width={640}
      height={480}
      style={{ position: 'fixed', left: 0, top: 0, width: 640, height: 480 }}
    />
  );
}
